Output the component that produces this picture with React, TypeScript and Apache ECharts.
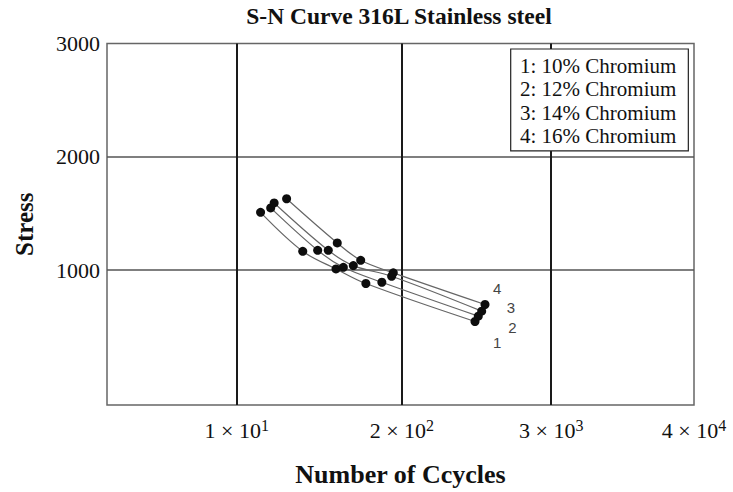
import React, { useEffect, useRef } from "react";
import * as echarts from "echarts";

const TITLE = "S-N Curve 316L Stainless steel";
const X_NAME = "Number of Ccycles";
const Y_NAME = "Stress";

// axis ticks (data units)
const X_LABEL_VALUES = [10, 200, 3000, 40000];
const X_GRID_VALUES = [10, 200, 3000];
const Y_LABEL_VALUES = [1000, 2000, 3000];
const Y_GRID_VALUES = [1000, 2000];

const SERIES_NAMES = [
  "1: 10% Chromium",
  "2: 12% Chromium",
  "3: 14% Chromium",
  "4: 16% Chromium",
];
const CURVE_TAGS = ["1", "2", "3", "4"];

// number of cycles / stress for each chromium content
const CYCLES_10 = [15.4, 33.1, 60.5, 104, 753];
const STRESS_10 = [1510, 1166, 1011, 882, 547];
const CYCLES_12 = [18.5, 43.4, 69.1, 139, 799];
const STRESS_12 = [1549, 1175, 1025, 893, 594];
const CYCLES_14 = [19.7, 52.6, 82.8, 166, 850];
const STRESS_14 = [1593, 1175, 1040, 946, 638];
const CYCLES_16 = [24.7, 61.9, 94.7, 171, 903];
const STRESS_16 = [1630, 1240, 1087, 976, 697];

const CYCLES = [CYCLES_10, CYCLES_12, CYCLES_14, CYCLES_16];
const STRESS = [STRESS_10, STRESS_12, STRESS_14, STRESS_16];

// style: offsets of the curve tags from the curve ends
const TAG_OFFSETS: [number, number][] = [
  [10, 21],
  [22, 11],
  [17, -4],
  [0, -16],
];

const SERIF = "'Liberation Serif', 'Times New Roman', serif";

export default function App() {
  const ref = useRef<HTMLDivElement>(null);

  useEffect(() => {
    if (!ref.current) return;
    const chart = echarts.init(ref.current, undefined, { renderer: "svg" });

    const series = CYCLES.map((xs, i) => ({
      type: "line",
      name: SERIES_NAMES[i],
      data: xs.map((x, j) => [x, STRESS[i][j]]),
      smooth: 0.35,
      symbol: "circle",
      symbolSize: 9,
      itemStyle: { color: "#0d0d0d" },
      lineStyle: { color: "#666", width: 1.2 },
      z: 3,
      endLabel: {
        show: true,
        formatter: () => CURVE_TAGS[i],
        offset: TAG_OFFSETS[i],
        fontFamily: "'Liberation Sans', Arial, sans-serif",
        fontSize: 15,
        color: "#444",
      },
    }));

    chart.setOption({
      animation: false,
      backgroundColor: "#fff",
      title: {
        text: TITLE,
        left: 399,
        top: 4,
        textAlign: "center",
        padding: 0,
        textStyle: {
          fontFamily: SERIF,
          fontWeight: "bold",
          fontSize: 23.5,
          color: "#111",
        },
      },
      legend: {
        data: SERIES_NAMES,
        orient: "vertical",
        left: 510.7,
        top: 49,
        z: 10,
        itemWidth: 0,
        itemHeight: 0,
        itemGap: 0.3,
        icon: "rect",
        padding: [5.5, 12, 3.5, 4.3],
        backgroundColor: "#fff",
        borderColor: "#222",
        borderWidth: 1.2,
        selectedMode: false,
        itemStyle: { opacity: 0 },
        lineStyle: { opacity: 0 },
        textStyle: {
          fontFamily: SERIF,
          fontSize: 21,
          lineHeight: 23,
          color: "#111",
        },
      },
      grid: {
        left: 107,
        top: 43.5,
        width: 587,
        height: 362.2,
        show: true,
        borderColor: "#666",
        borderWidth: 1.5,
        backgroundColor: "transparent",
      },
      xAxis: {
        type: "log",
        logBase: 10,
        min: 0.95,
        max: 40000,
        name: X_NAME,
        nameLocation: "middle",
        nameGap: 56,
        nameTextStyle: {
          fontFamily: SERIF,
          fontWeight: "bold",
          fontSize: 26,
          color: "#111",
        },
        axisLine: { show: false },
        axisTick: { show: false, customValues: X_GRID_VALUES },
        axisLabel: {
          customValues: X_LABEL_VALUES,
          margin: 12,
          fontFamily: SERIF,
          fontSize: 22,
          color: "#111",
          formatter: (v: number) => {
            const e = Math.floor(Math.log10(v) + 1e-9);
            const m = Math.round(v / Math.pow(10, e));
            return `{m|${m} × 10}{s|${e}}`;
          },
          rich: {
            m: { fontFamily: SERIF, fontSize: 22, color: "#111", lineHeight: 27 },
            s: { fontFamily: SERIF, fontSize: 16, color: "#111", verticalAlign: "top", lineHeight: 16 },
          },
        },
        splitLine: { show: true, lineStyle: { color: "#1a1a1a", width: 2 } },
      },
      yAxis: {
        type: "value",
        min: -190,
        max: 3000,
        name: Y_NAME,
        nameLocation: "middle",
        nameGap: 70,
        nameRotate: 90,
        nameTextStyle: {
          fontFamily: SERIF,
          fontWeight: "bold",
          fontSize: 25,
          color: "#111",
        },
        axisLine: { show: false },
        axisTick: { show: false, customValues: Y_GRID_VALUES },
        axisLabel: {
          customValues: Y_LABEL_VALUES,
          margin: 7,
          fontFamily: SERIF,
          fontSize: 22,
          color: "#111",
          formatter: (v: number) => String(v),
        },
        splitLine: { show: true, lineStyle: { color: "#555", width: 1.5 } },
      },
      series,
    });

    return () => chart.dispose();
  }, []);

  return (
    <div
      ref={ref}
      style={{ position: "fixed", left: 0, top: 0, width: 733, height: 492, background: "#fff" }}
    />
  );
}
